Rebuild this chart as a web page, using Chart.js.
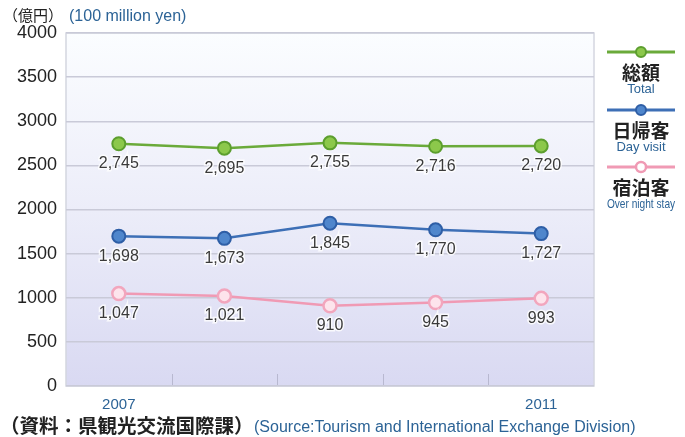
<!DOCTYPE html>
<html>
<head>
<meta charset="utf-8">
<script src="https://cdn.jsdelivr.net/npm/chart.js@4.4.1/dist/chart.umd.min.js"></script>
<style>
  body { margin: 0; background: #fff; font-family: "Liberation Sans", Arial, sans-serif; }
  #wrap { position: relative; width: 685px; height: 437px; }
  #chart { position: absolute; left: 0; top: 0; }
  .t { position: absolute; white-space: nowrap; line-height: 1; }
  .jp { font-family: "Noto Sans CJK JP", sans-serif; color: #222; }
  .en { color: #2c6396; }
  .leg { position: absolute; left: 603px; width: 76px; text-align: center; white-space: nowrap; }
  .leg svg { display: block; }
  .leg .jp { font-size: 19px; font-weight: 700; line-height: 20px; }
  .leg .en { font-size: 13px; line-height: 14px; }
</style>
</head>
<body>
<div id="wrap">
  <canvas id="chart" width="685" height="437"></canvas>
  <div class="t jp" style="left:3px; top:7px; font-size:15px;">（億円）</div>
  <div class="t en" style="left:69px; top:8px; font-size:16px;">(100 million yen)</div>
  <div class="t jp" style="left:0px; top:415px; font-size:19.5px; font-weight:700;">（資料：県観光交流国際課）</div>
  <div class="t en" style="left:254px; top:419px; font-size:16px;">(Source:Tourism and International Exchange Division)</div>

  <div class="leg" style="top:45px;">
    <svg width="76" height="14"><line x1="4" y1="7" x2="72" y2="7" stroke="#6aaa3a" stroke-width="3"/><circle cx="38" cy="7" r="5" fill="#8cc84b" stroke="#5c9e2e" stroke-width="2"/></svg>
    <div class="jp" style="margin-top:3px;">総額</div>
    <div class="en">Total</div>
  </div>
  <div class="leg" style="top:103px;">
    <svg width="76" height="14"><line x1="4" y1="7" x2="72" y2="7" stroke="#3d6fb6" stroke-width="3"/><circle cx="38" cy="7" r="5" fill="#4f86cc" stroke="#2e5ea6" stroke-width="2"/></svg>
    <div class="jp" style="margin-top:3px;">日帰客</div>
    <div class="en">Day visit</div>
  </div>
  <div class="leg" style="top:160px;">
    <svg width="76" height="14"><line x1="4" y1="7" x2="72" y2="7" stroke="#f09ab4" stroke-width="3"/><circle cx="38" cy="7" r="5" fill="#fff" stroke="#f09ab4" stroke-width="2.5"/></svg>
    <div class="jp" style="margin-top:3px;">宿泊客</div>
    <div class="en" style="transform:scaleX(0.78); margin-left:-20px; margin-right:-20px;">Over night stay</div>
  </div>
</div>
<script>
const years = ['2007', '2008', '2009', '2010', '2011'];
const yearLabels = ['2007', '', '', '', '2011'];
const totalValues = [2745, 2695, 2755, 2716, 2720];
const dayVisitValues = [1698, 1673, 1845, 1770, 1727];
const overnightValues = [1047, 1021, 910, 945, 993];
const yTicks = [0, 500, 1000, 1500, 2000, 2500, 3000, 3500, 4000];

// plot background gradient + short tick marks at category boundaries
const plotBackground = {
    id: 'plotBackground',
    beforeDraw(chart) {
        const { ctx, chartArea: a } = chart;
        const g = ctx.createLinearGradient(0, a.top, 0, a.bottom);
        g.addColorStop(0, '#fbfdff');
        g.addColorStop(0.5, '#ecedf9');
        g.addColorStop(1, '#d9d9f2');
        ctx.save();
        ctx.fillStyle = g;
        ctx.fillRect(a.left, a.top, a.right - a.left, a.bottom - a.top);
        ctx.strokeStyle = '#d4d6e0';
        ctx.lineWidth = 1.5;
        ctx.strokeRect(a.left, a.top, a.right - a.left, a.bottom - a.top);
        const x = chart.scales.x;
        const half = (x.getPixelForValue(1) - x.getPixelForValue(0)) / 2;
        ctx.strokeStyle = '#b8b8d0';
        ctx.lineWidth = 1;
        for (let i = 0; i < years.length - 1; i++) {
            const px = Math.round(x.getPixelForValue(i) + half) + 0.5;
            ctx.beginPath();
            ctx.moveTo(px, a.bottom - 12);
            ctx.lineTo(px, a.bottom);
            ctx.stroke();
        }
        ctx.restore();
    }
};

// value labels under each point
const valueLabels = {
    id: 'valueLabels',
    afterDatasetsDraw(chart) {
        const ctx = chart.ctx;
        ctx.save();
        ctx.font = '16px "Liberation Sans", Arial, sans-serif';
        ctx.textAlign = 'center';
        ctx.textBaseline = 'middle';
        chart.data.datasets.forEach((ds, di) => {
            chart.getDatasetMeta(di).data.forEach((pt, i) => {
                const txt = ds.data[i].toLocaleString('en-US');
                ctx.lineWidth = 3;
                ctx.strokeStyle = 'rgba(255,255,255,0.8)';
                ctx.strokeText(txt, pt.x, pt.y + 20);
                ctx.fillStyle = '#3a3a3a';
                ctx.fillText(txt, pt.x, pt.y + 20);
            });
        });
        ctx.restore();
    }
};

const ctx = document.getElementById('chart').getContext('2d');
const chart = new Chart(ctx, {
    type: 'line',
    data: {
        labels: years,
        datasets: [{
            label: 'Total',
            data: totalValues,
            borderColor: '#6aaa3a',
            backgroundColor: '#8cc84b',
            pointBorderColor: '#5c9e2e',
            borderWidth: 2.5,
            pointRadius: 6.5,
            pointBorderWidth: 2
        }, {
            label: 'Day visit',
            data: dayVisitValues,
            borderColor: '#3d6fb6',
            backgroundColor: '#4f86cc',
            pointBorderColor: '#2e5ea6',
            borderWidth: 2.5,
            pointRadius: 6.5,
            pointBorderWidth: 2
        }, {
            label: 'Over night stay',
            data: overnightValues,
            borderColor: '#f09ab4',
            backgroundColor: '#fde4ec',
            pointBorderColor: '#f2a6bd',
            borderWidth: 2.5,
            pointRadius: 6.5,
            pointBorderWidth: 2.5
        }]
    },
    options: {
        responsive: false,
        animation: false,
        layout: { padding: { left: 0, right: 91, top: 33, bottom: 0 } },
        plugins: {
            legend: { display: false },
            tooltip: { enabled: false }
        },
        scales: {
            x: {
                offset: true,
                grid: { display: false },
                border: { display: false },
                afterFit(scale) { scale.height = 51; },
                ticks: {
                    autoSkip: false,
                    maxRotation: 0,
                    padding: 2,
                    color: '#2c6396',
                    font: { size: 15, family: '"Liberation Sans", Arial, sans-serif' },
                    callback: (v, i) => yearLabels[i]
                }
            },
            y: {
                min: 0,
                max: 4000,
                afterFit(scale) { scale.width = 66; },
                afterBuildTicks(scale) { scale.ticks = yTicks.map(v => ({ value: v })); },
                grid: { color: '#c9cad8', lineWidth: 1.5, drawTicks: false },
                border: { display: false },
                ticks: {
                    padding: 9,
                    color: '#222',
                    font: { size: 18, family: '"Liberation Sans", Arial, sans-serif' },
                    callback: v => String(v)
                }
            }
        }
    },
    plugins: [plotBackground, valueLabels]
});
</script>
</body>
</html>
